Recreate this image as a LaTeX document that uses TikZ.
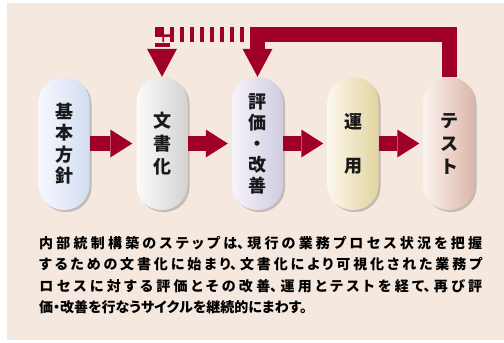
\documentclass[tikz,border=0pt]{standalone}
\usepackage{fontspec}
\newfontfamily\jp{Noto Sans CJK JP}
\newfontfamily\jpp[RawFeature=+palt]{Noto Sans CJK JP}
\usetikzlibrary{arrows.meta,shadows}
\XeTeXlinebreaklocale "ja"
\XeTeXlinebreakskip=0pt plus 5pt
\XeTeXlinebreakpenalty=0
\definecolor{bg}{RGB}{245,232,223}
\definecolor{crim}{RGB}{160,0,40}
\definecolor{aL}{HTML}{F6F8FE}\definecolor{aR}{HTML}{D3DCF2}
\definecolor{bL}{HTML}{FBFBFB}\definecolor{bR}{HTML}{D2D2D2}
\definecolor{cL}{HTML}{F6F4FB}\definecolor{cR}{HTML}{D0CBE0}
\definecolor{dL}{HTML}{FCF8EC}\definecolor{dR}{HTML}{E2D3A0}
\definecolor{eL}{HTML}{FBF2EE}\definecolor{eR}{HTML}{DCB6A9}
\begin{document}
\begin{tikzpicture}[x=1pt,y=-1pt,
  pill/.style={draw=none, rounded corners=25pt, minimum width=51pt, minimum height=133pt,
    inner sep=0pt, align=center, text=black!90,
    drop shadow={shadow xshift=2pt,shadow yshift=-2pt,opacity=0.35,fill=black!60},
    font=\jp\bfseries\fontsize{18}{21.5}\selectfont},
  flow/.style={draw=crim, line width=15pt, shorten >=4pt,
    -{Triangle[length=22pt,width=28pt,line width=0pt]}},
  back/.style={draw=crim, line width=15pt, line join=miter,
    -{Triangle[length=28pt,width=30pt,line width=0pt]}},
  backdash/.style={back, dash pattern=on 4pt off 6pt, dash phase=4pt}]
\useasboundingbox (0,0) rectangle (504,343);
\fill[white] (0,0) rectangle (504,343);
\fill[bg] (7,3) rectangle (504,340);

\node[pill, left color=aL, right color=aR] (p1) at (64,143.5) {基\\本\\方\\針};
\node[pill, left color=bL, right color=bR, font=\jp\bfseries\fontsize{18}{23}\selectfont] (p2) at (162,143.5) {文\\書\\化};
\node[pill, left color=cL, right color=cR, font=\jp\bfseries\fontsize{18}{21}\selectfont] (p3) at (257.5,143.5) {評\\価\\・\\改\\善};
\node[pill, left color=dL, right color=dR, font=\jp\bfseries\fontsize{18}{44}\selectfont] (p4) at (353,143.5) {運\\用};
\node[pill, left color=eL, right color=eR, font=\jp\bfseries\fontsize{18}{23}\selectfont] (p5) at (449,143.5) {テ\\ス\\ト};

\draw[flow] (p1.east) -- (p2.west);
\draw[flow] (p2.east) -- (p3.west);
\draw[flow] (p3.east) -- (p4.west);
\draw[flow] (p4.east) -- (p5.west);

\path (p5.north) ++(0,-42) coordinate (tr);
\coordinate (tl) at (p3.north |- tr);
\draw[back] (p5.north) -- (tr) -| (p3.north);
\draw[backdash] ([xshift=-7.5pt]tl) -| (p2.north);

\node[anchor=north west, inner sep=0pt, text width=443pt, align=justify,
  font=\jpp\bfseries\fontsize{14}{21.5}\selectfont] (txt) at (39,236)
  {内部統制構築のステップは、現行の業務プロセス状況を把握\linebreak するための文書化に始まり、文書化により可視化された業務プ\linebreak ロセスに対する評価とその改善、運用とテストを経て、再び評\linebreak 価・改善を行なうサイクルを継続的にまわす。};
\end{tikzpicture}
\end{document}
